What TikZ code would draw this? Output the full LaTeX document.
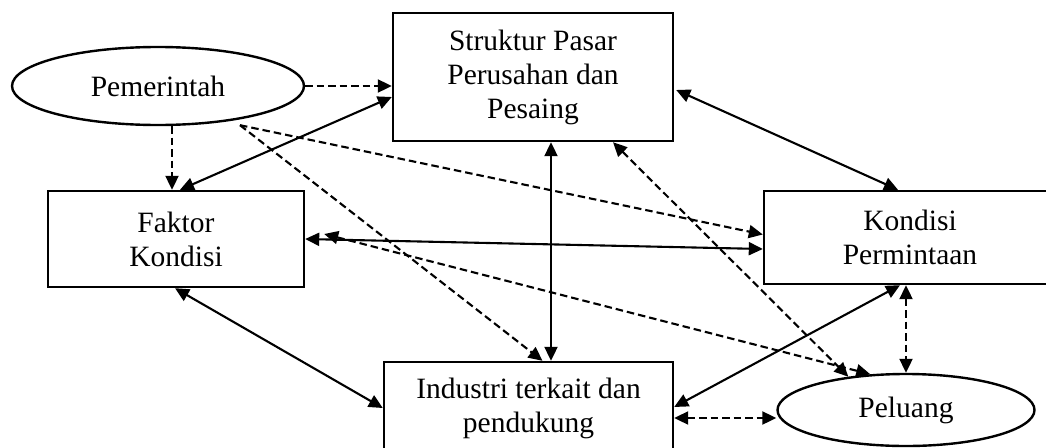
\documentclass[tikz,border=0pt]{standalone}
\usepackage{fontspec}
\setmainfont{Liberation Serif}
\usetikzlibrary{shapes.geometric,arrows.meta,calc}
\begin{document}
\begin{tikzpicture}[x=1pt,y=-1pt,
  txt/.style={font=\fontsize{29.5}{34}\selectfont, align=center, inner sep=0pt},
  box/.style={txt, draw, line width=2.4pt, rectangle, fill=white},
  oval/.style={txt, draw, line width=2.4pt, ellipse, fill=white},
  con/.style={line width=2.1pt, -{Triangle[length=14pt,width=13pt]}},
  bicon/.style={line width=2.1pt, {Triangle[length=14pt,width=13pt]}-{Triangle[length=14pt,width=13pt]}},
  dsh/.style={dash pattern=on 7.5pt off 4pt}]
\useasboundingbox (0,0) rectangle (1046,447);
\fill[white] (0,0) rectangle (1046,447);

% nodes
\node[oval, minimum width=292pt, minimum height=78pt] (pem) at (158,86) {Pemerintah};
\node[box, minimum width=280pt, minimum height=128pt] (str) at (533,77) {Struktur Pasar\\Perusahan dan\\Pesaing};
\node[box, minimum width=256pt, minimum height=96pt] (fak) at (176,239) {Faktor\\Kondisi};
\node[box, minimum width=292pt, minimum height=93pt] (kon) at (910,237.5) {Kondisi\\Permintaan};
\node[box, minimum width=289pt, minimum height=92pt] (ind) at (528.5,408) {Industri terkait dan\\pendukung};
\node[oval, minimum width=257pt, minimum height=72pt] (pel) at (906,410) {Peluang};

% helper coordinates
\coordinate (pdown) at ($(pem.south)+(14,0)$);
\coordinate (pstart) at ($(pem.south)+(82,-1)$);
\coordinate (svert) at ($(str.south)+(18,0)$);
\coordinate (ihor) at ($(ind.east)+(0,10)$);

% connectors
\draw[con, dsh] (pem.east) -- (pem.east -| str.west);
\draw[con, dsh] (pdown) -- (pdown |- fak.north);
\draw[bicon] ($(fak.north)+(4,0)$) -- ($(str.west)+(0,20)$);
\draw[con, dsh] (pstart) -- ($(kon.west)+(0,-3)$);
\draw[con, dsh] (pstart) -- ($(ind.north)+(14,0)$);
\draw[bicon] (svert) -- (svert |- ind.north);
\draw[bicon] ($(str.east)+(2,13)$) -- ($(kon.north)+(-12,0)$);
\draw[bicon, dsh] ($(str.south)+(80,0)$) -- (pel.150);
\draw[bicon] (fak.east) -- ($(kon.west)+(0,11.5)$);
\draw[bicon, dsh] ($(fak.east)+(19,-5)$) -- (pel.135);
\draw[bicon] ($(fak.south)+(-1,0)$) -- (ind.west);
\draw[bicon] ($(kon.south)+(-10,0)$) -- ($(ind.east)+(0,-1)$);
\draw[bicon, dsh] (pel.north |- kon.south) -- (pel.north);
\draw[bicon, dsh] (ihor) -- (ihor -| pel.west);
\end{tikzpicture}
\end{document}
